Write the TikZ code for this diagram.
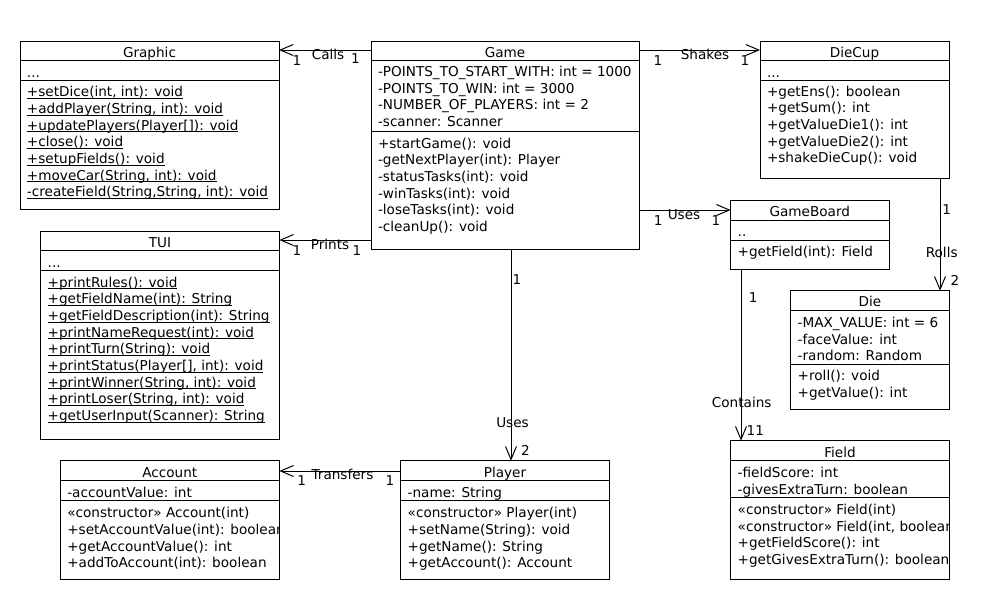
\documentclass[tikz,border=0pt]{standalone}
\usepackage{fontspec}
\setmainfont{DejaVu Sans}
\usetikzlibrary{arrows.meta}
\newcommand\clsfont{\fontsize{13.6}{16.7}\selectfont}
\newcommand\ulx[1]{\setbox0\hbox{#1}\rlap{\rule[-2pt]{\wd0}{0.8pt}}\box0}
\newcommand\members[4]{\foreach \t [count=\i] in {#4} {\node[mem] (#1\i) at (#2,{#3+16.7*(\i-1)}) {\t};}}
\begin{document}
\begin{tikzpicture}[x=1pt,y=-1pt,line width=1pt,
  box/.style={draw,rectangle,inner sep=0pt,outer sep=0pt,anchor=north west},
  mem/.style={anchor=base west,inner sep=0pt,outer sep=0pt,font=\clsfont},
  ttl/.style={anchor=base,inner sep=0pt,outer sep=0pt,font=\clsfont},
  lbl/.style={anchor=base,inner sep=0pt,outer sep=0pt,font=\clsfont},
  assoc/.style={-{Straight Barb[length=13pt,width=11pt]}}]
\fill[white] (0,0) rectangle (984,600);
\useasboundingbox (0,0) rectangle (984,600);

% ---------- class boxes ----------
\node[box,minimum width=259pt,minimum height=168pt] (graphic) at (20,41) {};
\node[box,minimum width=268pt,minimum height=208pt] (game) at (371,41) {};
\node[box,minimum width=189pt,minimum height=137.5pt] (diecup) at (760,41) {};
\node[box,minimum width=238.6pt,minimum height=208.3pt] (tui) at (40.7,231) {};
\node[box,minimum width=158.3pt,minimum height=68.3pt] (gameboard) at (730.7,200.7) {};
\node[box,minimum width=158.6pt,minimum height=118.6pt] (die) at (790.7,290.7) {};
\node[box,minimum width=219pt,minimum height=118.6pt] (account) at (60.3,460.7) {};
\node[box,minimum width=208.6pt,minimum height=118.6pt] (player) at (400.7,460.7) {};
\node[box,minimum width=218.6pt,minimum height=138.6pt] (field) at (730.7,440.7) {};

% ---------- compartment separators ----------
\draw (20,60.5) -- (279,60.5) (20,80.5) -- (279,80.5);
\draw (371,60.5) -- (639,60.5) (371,131) -- (639,131);
\draw (760,60.5) -- (949,60.5) (760,80.5) -- (949,80.5);
\draw (40.7,250.7) -- (279.3,250.7) (40.7,270.7) -- (279.3,270.7);
\draw (730.7,220.7) -- (889,220.7) (730.7,240.7) -- (889,240.7);
\draw (790.7,310.7) -- (949.3,310.7) (790.7,364) -- (949.3,364);
\draw (60.3,480.7) -- (279.3,480.7) (60.3,500.7) -- (279.3,500.7);
\draw (400.7,480.7) -- (609.3,480.7) (400.7,500.7) -- (609.3,500.7);
\draw (730.7,460.7) -- (949.3,460.7) (730.7,497.3) -- (949.3,497.3);

% ---------- Graphic ----------
\begin{scope}
\clip (graphic.south west) rectangle (graphic.north east);
\node[ttl] (graphicT) at (149.5,57) {Graphic};
\node[mem] (graphicA) at (27,77) {...};
\members{graphicM}{27}{96.7}{{\ulx{+setDice(int, int): void}},{\ulx{+addPlayer(String, int): void}},{\ulx{+updatePlayers(Player[]): void}},{\ulx{+close(): void}},{\ulx{+setupFields(): void}},{\ulx{+moveCar(String, int): void}},{\ulx{-createField(String,String, int): void}}}
\end{scope}

% ---------- Game ----------
\begin{scope}
\clip (game.south west) rectangle (game.north east);
\node[ttl] (gameT) at (505,57) {Game};
\members{gameA}{378}{76.3}{{-POINTS\_TO\_START\_WITH: int = 1000},{-POINTS\_TO\_WIN: int = 3000},{-NUMBER\_OF\_PLAYERS: int = 2},{-scanner: Scanner}}
\members{gameM}{378}{148}{{+startGame(): void},{-getNextPlayer(int): Player},{-statusTasks(int): void},{-winTasks(int): void},{-loseTasks(int): void},{-cleanUp(): void}}
\end{scope}

% ---------- DieCup ----------
\begin{scope}
\clip (diecup.south west) rectangle (diecup.north east);
\node[ttl] (diecupT) at (854.5,57) {DieCup};
\node[mem] (diecupA) at (767,77) {...};
\members{diecupM}{767}{96}{{+getEns(): boolean},{+getSum(): int},{+getValueDie1(): int},{+getValueDie2(): int},{+shakeDieCup(): void}}
\end{scope}

% ---------- TUI ----------
\begin{scope}
\clip (tui.south west) rectangle (tui.north east);
\node[ttl] (tuiT) at (160,247) {TUI};
\node[mem] (tuiA) at (47.7,267) {...};
\members{tuiM}{47.7}{287}{{\ulx{+printRules(): void}},{\ulx{+getFieldName(int): String}},{\ulx{+getFieldDescription(int): String}},{\ulx{+printNameRequest(int): void}},{\ulx{+printTurn(String): void}},{\ulx{+printStatus(Player[], int): void}},{\ulx{+printWinner(String, int): void}},{\ulx{+printLoser(String, int): void}},{\ulx{+getUserInput(Scanner): String}}}
\end{scope}

% ---------- GameBoard ----------
\begin{scope}
\clip (gameboard.south west) rectangle (gameboard.north east);
\node[ttl] (gameboardT) at (809.8,216.7) {GameBoard};
\node[mem] (gameboardA) at (737.7,236.7) {..};
\node[mem] (gameboardM) at (737.7,256.7) {+getField(int): Field};
\end{scope}

% ---------- Die ----------
\begin{scope}
\clip (die.south west) rectangle (die.north east);
\node[ttl] (dieT) at (870,306.7) {Die};
\members{dieA}{797.7}{327.3}{{-MAX\_VALUE: int = 6},{-faceValue: int},{-random: Random}}
\members{dieM}{797.7}{380.7}{{+roll(): void},{+getValue(): int}}
\end{scope}

% ---------- Account ----------
\begin{scope}
\clip (account.south west) rectangle (account.north east);
\node[ttl] (accountT) at (169.8,477) {Account};
\node[mem] (accountA) at (67.3,497.3) {-accountValue: int};
\members{accountM}{67.3}{517.7}{{«constructor» Account(int)},{+setAccountValue(int): boolean},{+getAccountValue(): int},{+addToAccount(int): boolean}}
\end{scope}

% ---------- Player ----------
\begin{scope}
\clip (player.south west) rectangle (player.north east);
\node[ttl] (playerT) at (505,477) {Player};
\node[mem] (playerA) at (407.7,497.3) {-name: String};
\members{playerM}{407.7}{517.7}{{«constructor» Player(int)},{+setName(String): void},{+getName(): String},{+getAccount(): Account}}
\end{scope}

% ---------- Field ----------
\begin{scope}
\clip (field.south west) rectangle (field.north east);
\node[ttl] (fieldT) at (840,457) {Field};
\members{fieldA}{737.7}{477.3}{{-fieldScore: int},{-givesExtraTurn: boolean}}
\members{fieldM}{737.7}{514.3}{{«constructor» Field(int)},{«constructor» Field(int, boolean)},{+getFieldScore(): int},{+getGivesExtraTurn(): boolean}}
\end{scope}

% ---------- connectors ----------
\draw[assoc] (game.west |- 0,50) -- (graphic.east |- 0,50);
\draw[assoc] (game.east |- 0,50) -- (diecup.west |- 0,50);
\draw[assoc] (game.west |- 0,240) -- (tui.east |- 0,240);
\draw[assoc] (game.east |- 0,210) -- (gameboard.west |- 0,210);
\draw[assoc] (511,0 |- game.south) -- (511,0 |- player.north);
\draw[assoc] (player.west |- 0,471) -- (account.east |- 0,471);
\draw[assoc] (940,0 |- diecup.south) -- (940,0 |- die.north);
\draw[assoc] (741,0 |- gameboard.south) -- (741,0 |- field.north);

% ---------- connector labels ----------
\node[lbl] (callsA) at (297,65) {1};
\node[lbl] (callsL) at (328,59.3) {Calls};
\node[lbl] (callsB) at (355.5,63) {1};
\node[lbl] (shakesA) at (658,65) {1};
\node[lbl] (shakesL) at (705,59.3) {Shakes};
\node[lbl] (shakesB) at (745,65) {1};
\node[lbl] (printsA) at (297,255) {1};
\node[lbl] (printsL) at (330,249.3) {Prints};
\node[lbl] (printsB) at (357,255) {1};
\node[lbl] (usesA) at (658.3,225.7) {1};
\node[lbl] (usesL) at (684,219.3) {Uses};
\node[lbl] (usesB) at (716,225.7) {1};
\node[lbl] (transA) at (301.7,485.7) {1};
\node[lbl] (transL) at (342.5,479.3) {Transfers};
\node[lbl] (transB) at (390,485.7) {1};
\node[lbl] (usepA) at (517,284) {1};
\node[lbl] (usepL) at (512.5,427.3) {Uses};
\node[lbl] (usepB) at (525.5,455) {2};
\node[lbl] (rollsA) at (946.7,214) {1};
\node[lbl] (rollsL) at (941.7,257.3) {Rolls};
\node[lbl] (rollsB) at (955,285) {2};
\node[lbl] (contA) at (753.3,302.7) {1};
\node[lbl] (contL) at (741.7,407.3) {Contains};
\node[lbl] (contB) at (755.3,435) {11};
\end{tikzpicture}
\end{document}
